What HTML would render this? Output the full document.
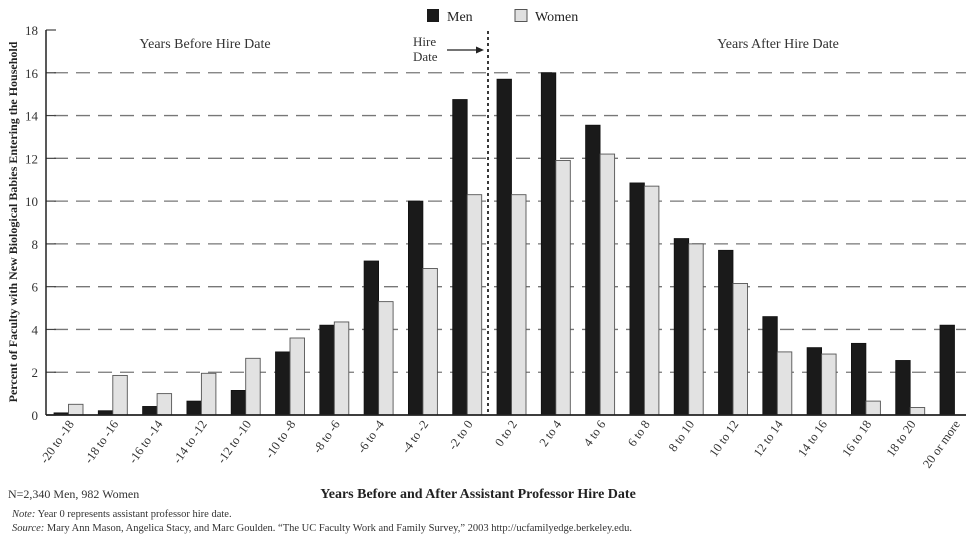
<!DOCTYPE html>
<html><head><meta charset="utf-8"><style>
body{margin:0;background:#fff;}
svg{display:block;font-family:"Liberation Serif",serif;}
</style></head><body>
<svg id="chart" width="975" height="538" viewBox="0 0 975 538" xmlns="http://www.w3.org/2000/svg">
<g id="grid"></g>
<g id="bars"></g>
<g id="axes"></g>
<g>
<rect x="427" y="9" width="12" height="13" fill="#1a1a1a"/>
<text x="447" y="21" font-size="14" fill="#222">Men</text>
<rect x="515" y="9.5" width="12" height="12" fill="#e0e0e0" stroke="#555" stroke-width="1"/>
<text x="535" y="21" font-size="14" fill="#222">Women</text>
</g>
<text x="205" y="48" font-size="14" text-anchor="middle" fill="#333">Years Before Hire Date</text>
<text x="778" y="48" font-size="14" text-anchor="middle" fill="#333">Years After Hire Date</text>
<text x="413" y="46" font-size="13" fill="#333">Hire</text>
<text x="413" y="61" font-size="13" fill="#333">Date</text>
<line x1="447" y1="50" x2="478" y2="50" stroke="#222" stroke-width="1.2"/>
<polygon points="484,50 476,46.5 476,53.5" fill="#222"/>
<line x1="488" y1="31" x2="488" y2="415" stroke="#222" stroke-width="1.8" stroke-dasharray="3,3"/>
<text transform="translate(17,222) rotate(-90)" font-size="12" font-weight="bold" text-anchor="middle" fill="#222">Percent of Faculty with New Biological Babies Entering the Household</text>
<text x="478" y="498" font-size="14" font-weight="bold" text-anchor="middle" fill="#222">Years Before and After Assistant Professor Hire Date</text>
<text x="8" y="498" font-size="12" fill="#333">N=2,340 Men, 982 Women</text>
<text x="12" y="517" font-size="10.5" fill="#333"><tspan font-style="italic">Note:</tspan> Year 0 represents assistant professor hire date.</text>
<text x="12" y="531" font-size="10.5" fill="#333"><tspan font-style="italic">Source:</tspan> Mary Ann Mason, Angelica Stacy, and Marc Goulden. “The UC Faculty Work and Family Survey,” 2003 http://ucfamilyedge.berkeley.edu.</text>
</svg>
<script>
const categories = ["-20 to -18","-18 to -16","-16 to -14","-14 to -12","-12 to -10","-10 to -8","-8 to -6","-6 to -4","-4 to -2","-2 to 0","0 to 2","2 to 4","4 to 6","6 to 8","8 to 10","10 to 12","12 to 14","14 to 16","16 to 18","18 to 20","20 or more"];
const menValues = [0.1,0.2,0.4,0.65,1.15,2.95,4.2,7.2,10.0,14.75,15.7,16.0,13.55,10.85,8.25,7.7,4.6,3.15,3.35,2.55,4.2];
const womenValues = [0.5,1.85,1.0,1.95,2.65,3.6,4.35,5.3,6.85,10.3,10.3,11.9,12.2,10.7,8.0,6.15,2.95,2.85,0.65,0.35,null];
const yTicks = [0,2,4,6,8,10,12,14,16,18];

const NS="http://www.w3.org/2000/svg";
const x0=46, x1=966, yBase=415, yTop=30, yMax=18;
const firstCenter=68.5, pitch=(940+14.5-firstCenter)/20, barW=14.5;
function yScale(v){return yBase-(v/yMax)*(yBase-yTop);}
function xCenter(i){return firstCenter+i*pitch;}
function mk(tag,attrs,parent){const e=document.createElementNS(NS,tag);for(const k in attrs)e.setAttribute(k,attrs[k]);parent.appendChild(e);return e;}
const grid=document.getElementById('grid'), bars=document.getElementById('bars'), axes=document.getElementById('axes');
yTicks.forEach(t=>{
  const y=yScale(t);
  if(t>0 && t<18){
    const g=mk('line',{x1:x0+8,x2:x1,y1:y,y2:y,stroke:'#777','stroke-width':1.3,'stroke-dasharray':'14,8'},grid);
    
    
  }
  const tk=mk('line',{x1:x0,x2:x0+10,y1:y,y2:y,stroke:'#444','stroke-width':1.2},axes);
  
  
  const tl=mk('text',{x:x0-8,y:y+5,'font-size':13,'text-anchor':'end',fill:'#333'},axes);
  
  
  tl.textContent=t;
});
categories.forEach((c,i)=>{
  const cx=xCenter(i);
  const m=menValues[i];
  if(m!=null){
    const r=mk('rect',{x:cx-barW,y:yScale(m),width:barW,height:yBase-yScale(m),fill:'#1a1a1a',stroke:'#111','stroke-width':0.8},bars);
    
    
  }
  const w=womenValues[i];
  if(w!=null){
    const r=mk('rect',{x:cx,y:yScale(w),width:barW,height:yBase-yScale(w),fill:'#e2e2e2',stroke:'#555','stroke-width':0.9},bars);
    
    
  }
  const lx=cx+6, ly=424;
  const t=mk('text',{x:lx,y:ly,'font-size':12.5,'text-anchor':'end',fill:'#333',transform:`rotate(-55 ${lx} ${ly})`},axes);
  
  
  t.textContent=c;
});
const ya=mk('line',{x1:x0,x2:x0,y1:yTop,y2:yBase,stroke:'#222','stroke-width':1.5},axes);


const xa=mk('line',{x1:x0,x2:x1,y1:yBase,y2:yBase,stroke:'#222','stroke-width':1.8},axes);


</script>
</body></html>
